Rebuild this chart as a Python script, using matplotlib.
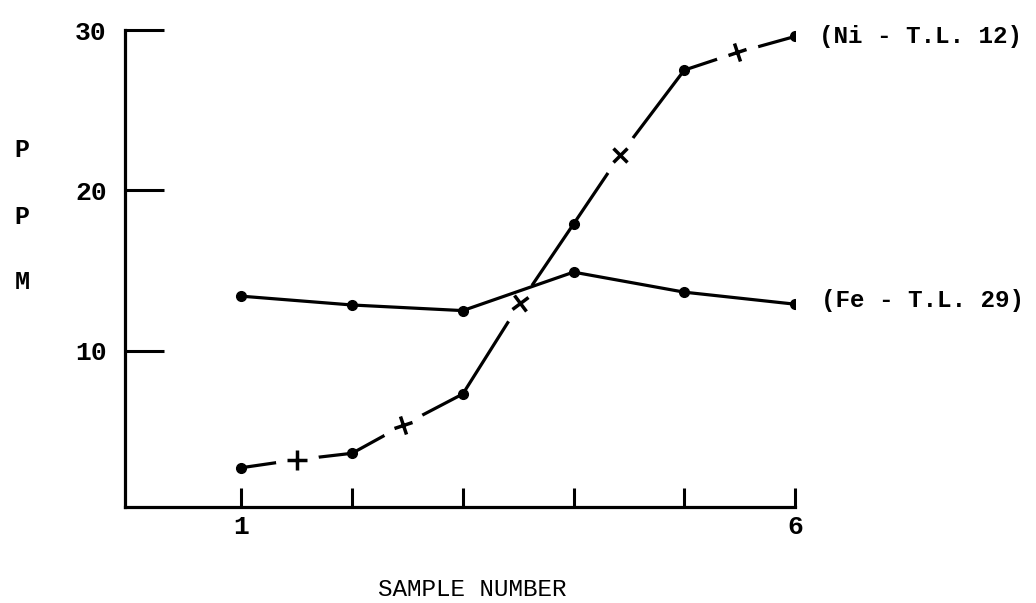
import matplotlib
matplotlib.use("Agg")
import matplotlib.pyplot as plt
from matplotlib.markers import MarkerStyle
from matplotlib.transforms import Affine2D

plt.rcParams['font.family'] = ['Liberation Mono', 'DejaVu Sans Mono']

# Sample numbers and measured concentrations (ppm)
samples = [1, 2, 3, 4, 5, 6]
ni_ppm = [2.7, 3.6, 7.3, 17.9, 27.5, 29.6]
fe_ppm = [13.4, 12.85, 12.5, 14.9, 13.65, 12.9]

# Intermediate Ni check points between samples
ni_check_x = [1.5, 2.46, 3.52, 4.42, 5.48]
ni_check_ppm = [3.2, 5.35, 13.0, 22.2, 28.6]

ni_label = '(Ni - T.L. 12)'
fe_label = '(Fe - T.L. 29)'

# full Ni trace: samples and check points in x order
ni_x = sorted(samples + ni_check_x)
ni_y = [dict(zip(samples + ni_check_x, ni_ppm + ni_check_ppm))[v] for v in ni_x]

fig = plt.figure(figsize=(10.36, 6.03), dpi=100)
ax = fig.add_axes([0.1207, 0.1592, 0.6467, 0.791])

lw = 2.3
ax.plot(ni_x, ni_y, color='black', lw=lw, solid_capstyle='butt', zorder=2)
# break the Ni line around each check point
ax.plot(ni_check_x, ni_check_ppm, 'o', ms=31, mfc='white', mec='none', zorder=3)
ax.plot(samples, ni_ppm, 'o', color='black', ms=7, zorder=5)

tilts = [0, 20, 35, 45, 15]
for x, y, a in zip(ni_check_x, ni_check_ppm, tilts):
    m = MarkerStyle('+', transform=Affine2D().rotate_deg(a))
    ax.plot(x, y, marker=m, color='black', ms=14, mew=2.5, zorder=5)

ax.plot(samples, fe_ppm, color='black', lw=lw, marker='o', ms=7, zorder=4)

ax.annotate(ni_label, (samples[-1], ni_ppm[-1]), xytext=(17, 0),
            textcoords='offset points', ha='left', va='center',
            fontsize=17.5, fontweight='bold')
ax.annotate(fe_label, (samples[-1], fe_ppm[-1]), xytext=(19, 3),
            textcoords='offset points', ha='left', va='center',
            fontsize=17.5, fontweight='bold')

ax.set_xlim(-0.05, 6)
ax.set_ylim(0.25, 30)

for side in ['top', 'right']:
    ax.spines[side].set_visible(False)
for side in ['left', 'bottom']:
    ax.spines[side].set_linewidth(2.3)

ax.set_xticks(samples)
ax.set_xticklabels(['1', '', '', '', '', '6'], fontsize=19, fontweight='bold')
ax.set_yticks([10, 20, 30])
ax.set_yticklabels(['10', '20', '30'], fontsize=19, fontweight='bold')
ax.tick_params(axis='x', direction='in', length=14, width=2.2, pad=6)
ax.tick_params(axis='y', direction='in', length=28, width=2.2, pad=13)

for y, ch in zip([150, 217, 282], ['P', 'P', 'M']):
    fig.text(22 / 1036, 1 - y / 603, ch, ha='center', va='center',
             fontsize=18, fontweight='bold')

fig.text(472 / 1036, 1 - 590 / 603, 'SAMPLE NUMBER', ha='center', va='center',
         fontsize=17.5)

fig.savefig('out.png', dpi=100, facecolor='white')
